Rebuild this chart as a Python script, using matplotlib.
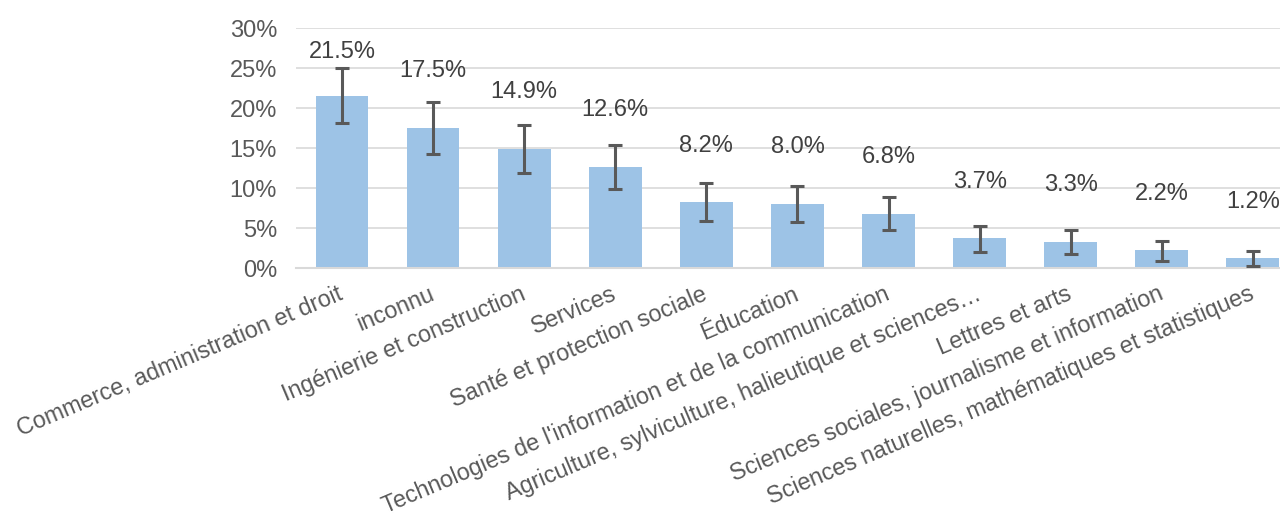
import numpy as np
import matplotlib.pyplot as plt

plt.rcParams['font.family'] = ['Liberation Sans', 'DejaVu Sans']

categories = ["Commerce, administration et droit", "inconnu", "Ingénierie et construction",
              "Services", "Santé et protection sociale", "Éducation",
              "Technologies de l'information et de la communication",
              "Agriculture, sylviculture, halieutique et sciences…", "Lettres et arts",
              "Sciences sociales, journalisme et information",
              "Sciences naturelles, mathématiques et statistiques"]
values = [21.5, 17.5, 14.9, 12.6, 8.2, 8.0, 6.8, 3.7, 3.3, 2.2, 1.2]
err_low = [18.1, 14.25, 11.9, 9.9, 5.9, 5.7, 4.7, 2.0, 1.7, 0.85, 0.2]
err_high = [25.0, 20.75, 17.9, 15.4, 10.6, 10.3, 8.9, 5.25, 4.75, 3.4, 2.15]

vals = np.array(values)
yerr = [vals - np.array(err_low), np.array(err_high) - vals]
x = np.arange(len(categories))

fig = plt.figure(figsize=(12.8, 5.2), dpi=100)
ax = fig.add_axes([0.2316, 0.4846, 0.7828, 0.4615])

ax.bar(x, vals, width=0.58, color='#9DC3E6', zorder=2)
ax.errorbar(x, vals, yerr=yerr, fmt='none', ecolor='#595959', elinewidth=2.2,
            capsize=5, capthick=2.2, zorder=3)

for xi, v in zip(x, vals):
    ax.text(xi, min(v + 7.1, 27.0), f"{v:.1f}%", ha='center', va='center',
            fontsize=17, color='#404040')

ax.set_xlim(-0.5, len(categories) - 0.5)
ax.set_ylim(0, 30)
ax.set_yticks(range(0, 31, 5))
ax.set_yticklabels([f"{t}%" for t in range(0, 31, 5)], fontsize=17, color='#595959')
ax.yaxis.grid(True, color='#D9D9D9', linewidth=1.2, zorder=0)
ax.set_axisbelow(True)
for s in ['top', 'right', 'left']:
    ax.spines[s].set_visible(False)
ax.spines['bottom'].set_color('#D9D9D9')
ax.spines['bottom'].set_linewidth(1.5)
ax.tick_params(axis='both', length=0)
ax.tick_params(axis='y', pad=14)

ax.set_xticks(x)
ax.set_xticklabels(categories, rotation=23, ha='right', va='center',
                   rotation_mode='anchor', fontsize=16.8, color='#595959')
ax.tick_params(axis='x', pad=18)

fig.savefig('out.png', dpi=100)
